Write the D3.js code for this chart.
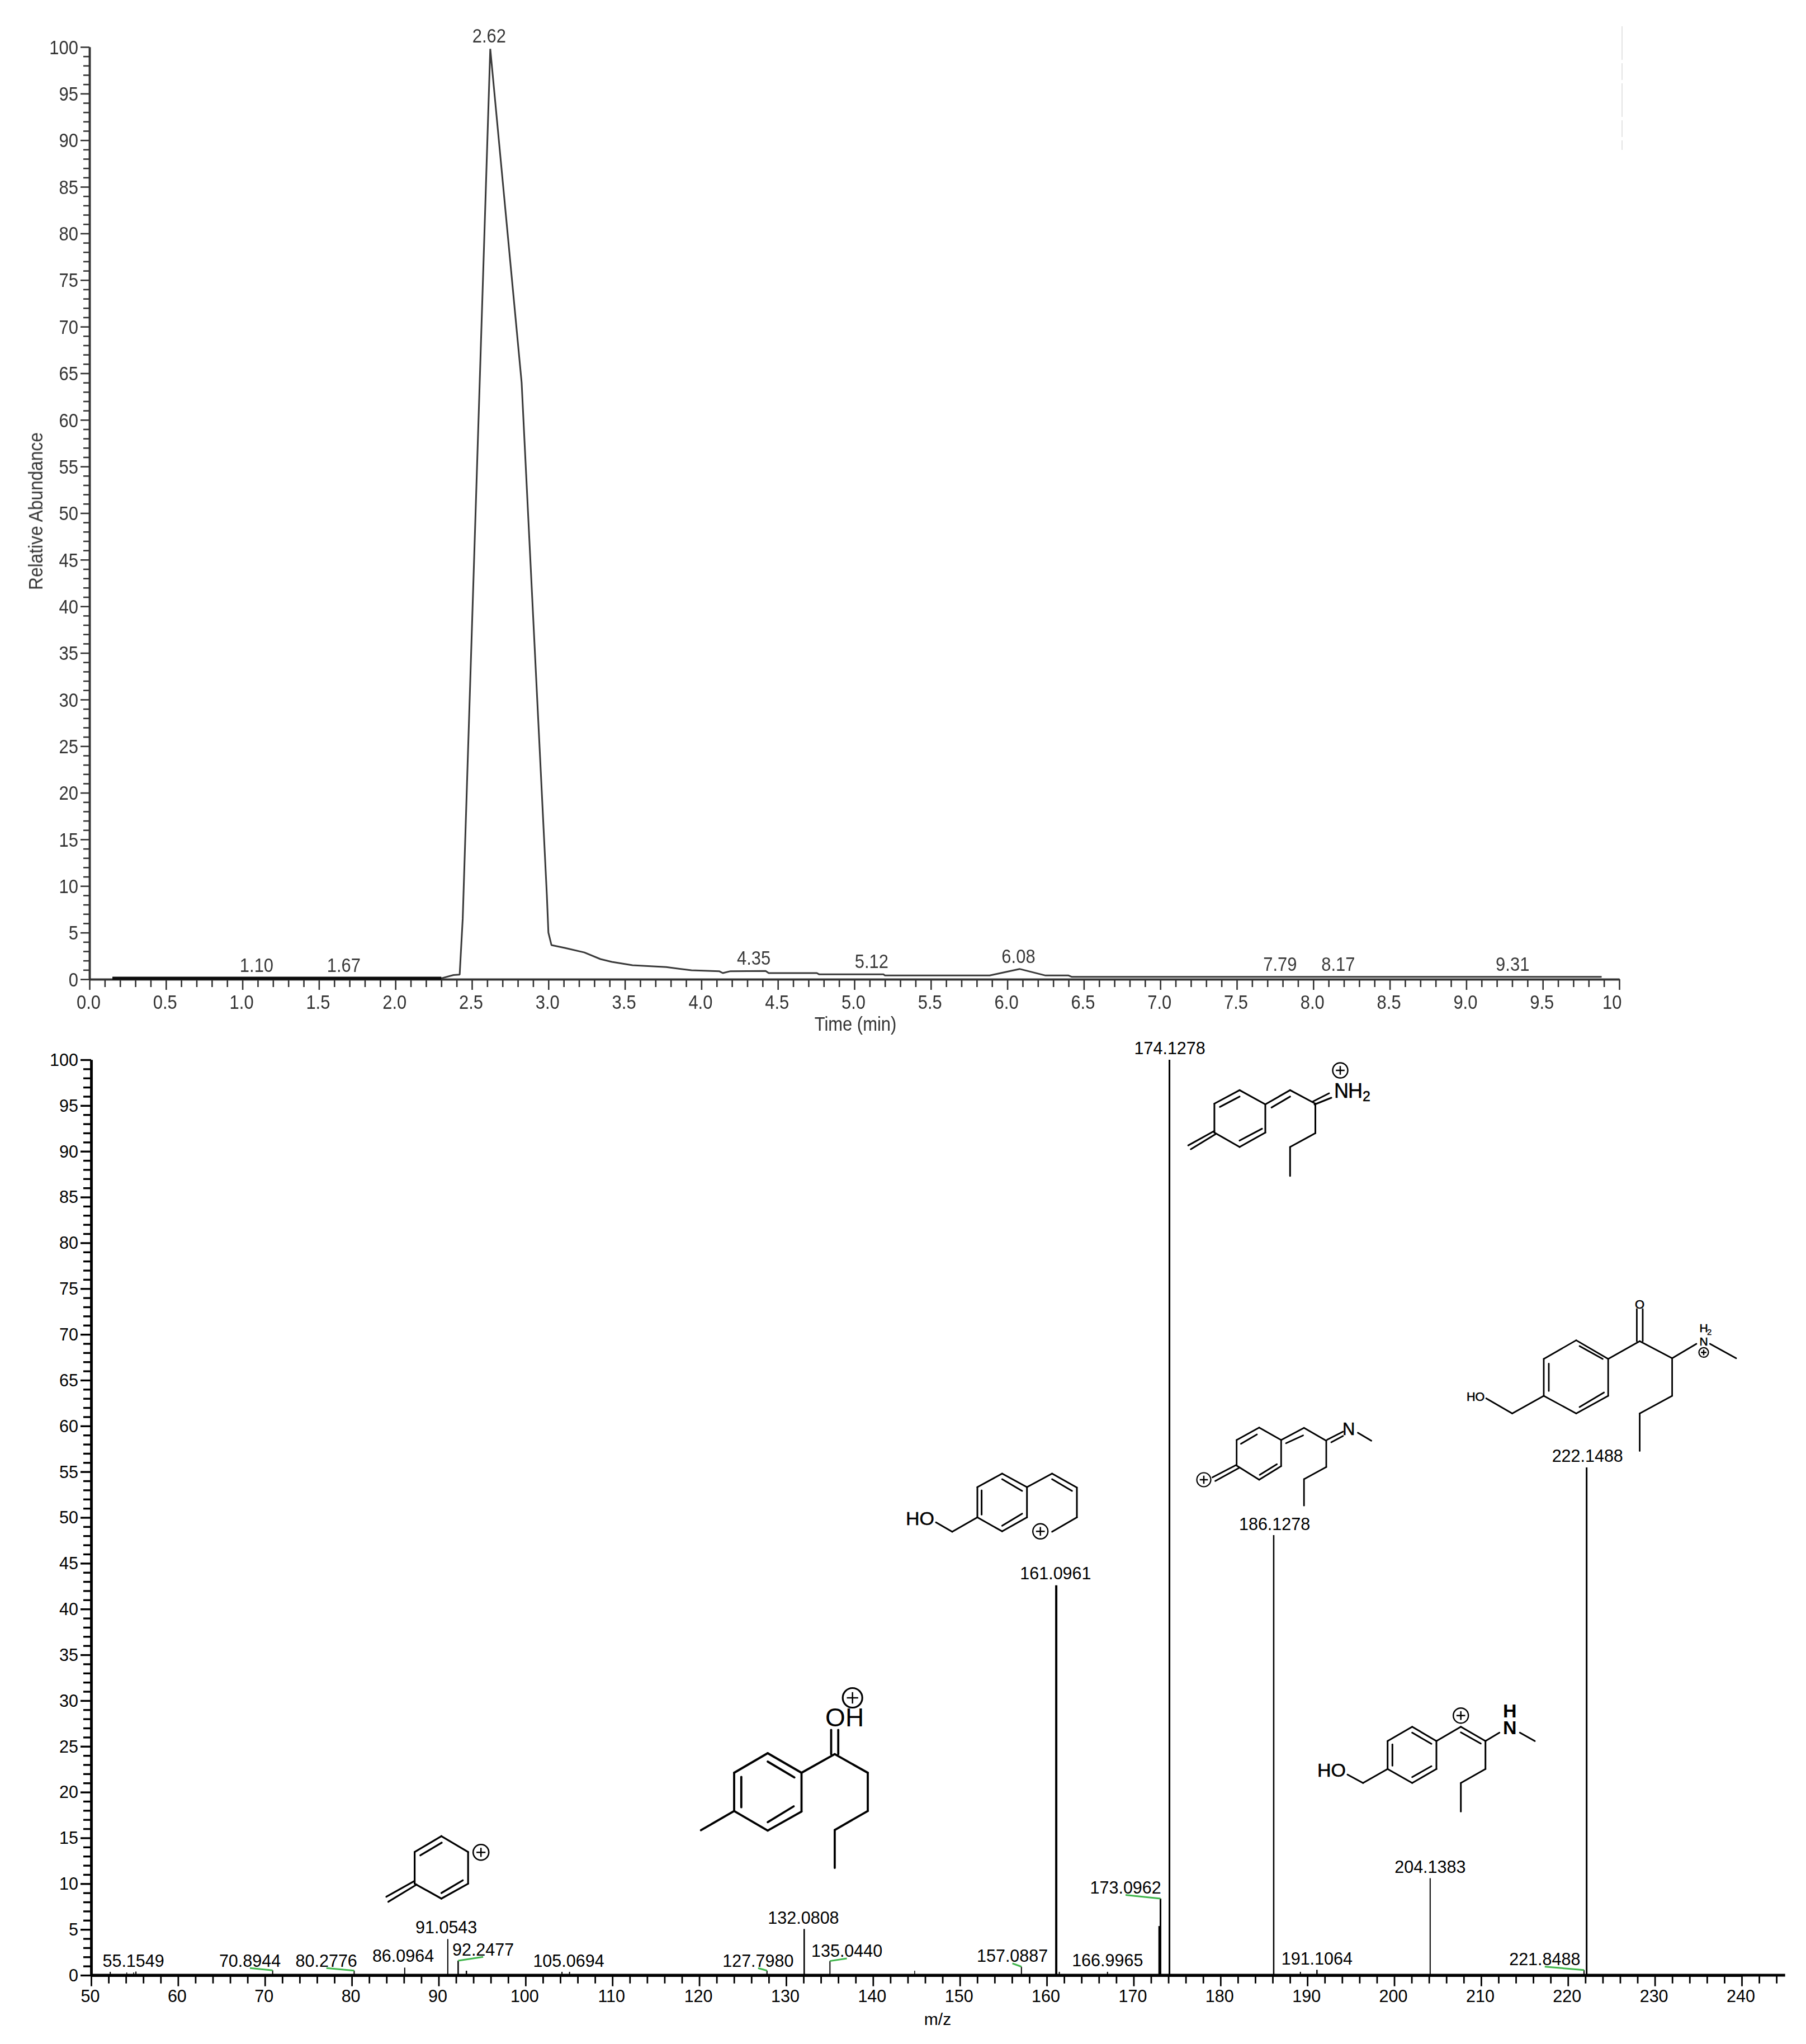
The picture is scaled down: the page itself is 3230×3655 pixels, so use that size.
<!DOCTYPE html>
<html>
<head>
<meta charset="utf-8">
<script src="https://cdnjs.cloudflare.com/ajax/libs/d3/7.8.5/d3.min.js"></script>
<style>
html,body{margin:0;padding:0;background:#fff}
svg{display:block}
text{font-family:"Liberation Sans",Arial,sans-serif}
</style>
</head>
<body>
<script>
// ---------- Chromatogram data ----------
const traceTime = [0.15,2.30,2.38,2.42,2.44,2.62,2.825,2.99,3.0,3.02,3.107,3.235,3.34,3.415,3.55,3.77,3.935,4.116,4.14,4.19,4.42,4.44,4.755,4.77,5.19,5.2,5.885,6.08,6.25,6.4,6.42,9.885];
const traceAbundance = [0.1,0.1,0.45,0.5,6.5,99.8,64,9,5,3.66,3.36,2.87,2.16,1.86,1.5,1.3,0.96,0.86,0.66,0.86,0.88,0.66,0.66,0.52,0.52,0.4,0.4,1.1,0.4,0.4,0.26,0.26];
const peakTimes = [1.10,1.67,2.62,4.35,5.12,6.08,7.79,8.17,9.31];
const peakAbundance = [0.1,0.1,99.8,0.88,0.52,1.1,0.26,0.26,0.26];
const timeMinor = d3.range(0,101);
const abundanceTicks = d3.range(0,101);

// ---------- Spectrum data ----------
const labelledMz = [55.1549,70.8944,80.2776,86.0964,91.0543,92.2477,105.0694,127.7980,132.0808,135.0440,157.0887,161.0961,166.9965,173.0962,174.1278,186.1278,191.1064,204.1383,221.8488,222.1488];
const labelledIntensity = [0.4,0.53,0.5,0.83,3.95,1.59,0.37,0.5,5.05,1.55,0.93,42.6,0.37,8.37,100,48.08,0.59,10.6,0.57,55.47];
const minorMz = [52.2,54.1,54.9,93.2,104.2,144.8,161.45,172.95,189.2];
const minorIntensity = [0.37,0.3,0.3,0.49,0.37,0.49,0.37,5.37,0.37];
const mzTicks = d3.range(50,245,2);

// ---------- Layout (not data) ----------
const labelDx = [-4.5,-40.6,-49.7,-2.8,-2.7,44.7,-1.6,-15.9,-1.3,30.3,-16.2,-1.2,0,-62.4,0.6,1.6,0,0,-70.2,1.6];
const labelDy = [-8.8,-6.6,-7.1,-10.4,-10,-9.3,-9.2,-7.1,-9.3,-7.3,-8.5,-10.3,-10,-9,-10,-9.3,-9.6,-9.5,-8.4,-10.4];
const labelledWidth = [2,2,2,2,2,2.5,2,2,2.5,2,2,4,2,3,3,2.5,2.5,2,2,3];
const minorWidth = [2,1.5,1.5,2.5,2,1.5,2,3,2];

const svg = d3.select("body").append("svg").attr("width",3230).attr("height",3655).attr("viewBox","0 0 3230 3655");
svg.append("rect").attr("width",3230).attr("height",3655).attr("fill","#fff");

// ================= Top panel =================
const topColor = "#333";
const squeeze = 0.86;
const topPanel = svg.append("g").style("filter","blur(0.4px)");
const xT = d3.scaleLinear().domain([0,10]).range([160,2896]);
const yT = d3.scaleLinear().domain([0,100]).range([1751,84]);

// faint scan artefact in the top right corner
topPanel.append("line").attr("x1",2901).attr("x2",2901).attr("y1",47).attr("y2",268)
  .attr("stroke","#e4e4e4").attr("stroke-width",2).attr("stroke-dasharray","60 6 30 6");

const xTMinor = d3.axisBottom(xT).tickValues(timeMinor.filter(i=>i%5).map(i=>i/10)).tickSize(14).tickSizeOuter(0).tickFormat("");
const xTMajor = d3.axisBottom(xT).tickValues(timeMinor.filter(i=>i%5===0).map(i=>i/10)).tickSize(19).tickSizeOuter(0).tickPadding(7)
  .tickFormat(v=>v===10?"10":d3.format(".1f")(v));
const yTMinor = d3.axisLeft(yT).tickValues(abundanceTicks.filter(i=>i%5)).tickSize(11).tickSizeOuter(0).tickFormat("");
const yTMajor = d3.axisLeft(yT).tickValues(abundanceTicks.filter(i=>i%5===0)).tickSize(16).tickSizeOuter(0).tickPadding(4);

function styleAxis(g,col,lw,tw){
  g.selectAll("path.domain").attr("stroke",col).attr("stroke-width",lw);
  g.selectAll("line").attr("stroke",col).attr("stroke-width",tw);
}
const gxm = topPanel.append("g").attr("transform","translate(0,1751)").call(xTMinor);
const gxM = topPanel.append("g").attr("transform","translate(0,1751)").call(xTMajor);
const gym = topPanel.append("g").attr("transform","translate(160,0)").call(yTMinor);
const gyM = topPanel.append("g").attr("transform","translate(160,0)").call(yTMajor);
[gxm,gxM,gym,gyM].forEach(g=>styleAxis(g,topColor,3.5,2.6));
gxM.selectAll("text").attr("font-size",36).attr("fill",topColor).attr("font-family","Liberation Sans")
  .attr("text-anchor",d=>d===10?"end":"middle")
  .attr("x",d=>d===10?4/squeeze:-2/squeeze)
  .attr("transform",`scale(${squeeze},1)`)
  .each(function(){this.setAttribute("y","53");this.removeAttribute("dy");});
gyM.selectAll("text").attr("font-size",36).attr("fill",topColor).attr("font-family","Liberation Sans")
  .attr("x",-20/squeeze).attr("dy","0.34em").attr("transform",`scale(${squeeze},1)`);

const traceLine = d3.line().x(i=>xT(traceTime[i])).y(i=>yT(traceAbundance[i]));
topPanel.append("path").attr("d",traceLine(d3.range(traceTime.length)))
  .attr("fill","none").attr("stroke","#3a3a3a").attr("stroke-width",3).attr("stroke-linejoin","bevel");
topPanel.append("path").attr("d",traceLine(d3.range(0,2)))
  .attr("fill","none").attr("stroke","#0c0c0c").attr("stroke-width",5.5);

topPanel.selectAll("text.peak").data(peakTimes).join("text").attr("class","peak")
  .attr("text-anchor","middle").attr("font-size",36).attr("fill","#3a3a3a")
  .attr("transform",(t,i)=>`translate(${xT(t)-2},${yT(peakAbundance[i])-11}) scale(${squeeze},1)`)
  .text(t=>t.toFixed(2));

topPanel.append("text").attr("text-anchor","middle").attr("font-size",36).attr("fill",topColor)
  .attr("transform",`translate(1530,1843) scale(0.86,1)`).text("Time (min)");
topPanel.append("text").attr("text-anchor","middle").attr("font-size",36).attr("fill",topColor)
  .attr("transform",`translate(76,914) rotate(-90) scale(0.88,1)`).text("Relative Abundance");

// ================= Bottom panel =================
const xB = d3.scaleLinear().domain([50,240]).range([163,3115]);
const yB = d3.scaleLinear().domain([0,100]).range([3532,1895]);
const bot = svg.append("g");

const xBMinor = d3.axisBottom(xB).tickValues(mzTicks.filter(v=>v%10)).tickSize(14.7).tickSizeOuter(0).tickFormat("");
const xBMajor = d3.axisBottom(xB).tickValues(mzTicks.filter(v=>v%10===0)).tickSize(19.7).tickSizeOuter(0);
const yBMinor = d3.axisLeft(yB).tickValues(abundanceTicks.filter(i=>i%5)).tickSize(14).tickSizeOuter(0).tickFormat("");
const yBMajor = d3.axisLeft(yB).tickValues(abundanceTicks.filter(i=>i%5===0)).tickSize(19).tickSizeOuter(0);

const gbxm = bot.append("g").attr("transform","translate(0,3532)").call(xBMinor);
const gbxM = bot.append("g").attr("transform","translate(0,3532)").call(xBMajor);
const gbym = bot.append("g").attr("transform","translate(163,0)").call(yBMinor);
const gbyM = bot.append("g").attr("transform","translate(163,0)").call(yBMajor);
[gbym,gbyM].forEach(g=>styleAxis(g,"#000",4.5,3.4));
[gbxm,gbxM].forEach(g=>styleAxis(g,"#000",5,2.8));
// axis baseline reaches 245
bot.append("line").attr("x1",xB(50)).attr("x2",xB(245)).attr("y1",yB(0)).attr("y2",yB(0)).attr("stroke","#000").attr("stroke-width",5);
gbxM.selectAll("text").attr("font-size",30.5).attr("fill","#000").attr("font-family","Liberation Sans")
  .attr("x",-2).each(function(){this.setAttribute("y","48");this.removeAttribute("dy");});
gbyM.selectAll("text").attr("font-size",30.5).attr("fill","#000").attr("font-family","Liberation Sans")
  .attr("x",-23).attr("dy","0.34em");

bot.selectAll("line.minor").data(minorMz).join("line").attr("class","minor")
  .attr("x1",d=>xB(d)).attr("x2",d=>xB(d)).attr("y1",yB(0))
  .attr("y2",(d,i)=>yB(minorIntensity[i])).attr("stroke","#000").attr("stroke-width",(d,i)=>minorWidth[i]);
bot.selectAll("line.stick").data(labelledMz).join("line").attr("class","stick")
  .attr("x1",d=>xB(d)).attr("x2",d=>xB(d)).attr("y1",yB(0))
  .attr("y2",(d,i)=>yB(labelledIntensity[i])).attr("stroke","#000").attr("stroke-width",(d,i)=>labelledWidth[i]);

// label leader lines for displaced labels
bot.selectAll("line.leader").data(labelledMz.map((m,i)=>i).filter(i=>Math.abs(labelDx[i])>8)).join("line").attr("class","leader")
  .attr("x1",i=>xB(labelledMz[i])+labelDx[i]).attr("y1",i=>yB(labelledIntensity[i])+labelDy[i]+2.6)
  .attr("x2",i=>xB(labelledMz[i])).attr("y2",i=>yB(labelledIntensity[i]))
  .attr("stroke","#3fb54a").attr("stroke-width",3);

bot.selectAll("text.mz").data(labelledMz).join("text").attr("class","mz")
  .attr("text-anchor","middle").attr("font-size",30.5).attr("fill","#000")
  .attr("x",(d,i)=>xB(d)+labelDx[i]).attr("y",(d,i)=>yB(labelledIntensity[i])+labelDy[i])
  .text(d=>d.toFixed(4));
bot.append("text").attr("x",1677).attr("y",3621).attr("text-anchor","middle").attr("font-size",30).text("m/z");

// ================= Chemical structure annotations =================
const structures = [
 { // m/z 174
  w:3, bonds:[[2171.9,1973.5,2217,1949.4],[2217,1949.4,2263,1974.7],[2263,1974.7,2263,2025.2],[2263,2025.2,2217,2051],[2217,2051,2171.9,2025.2],[2171.9,2025.2,2171.9,1973.5],
   [2181.7,1979.3,2217,1960.9],[2257,2018.3,2217,2039.5],[2171.9,2022.3,2125.2,2048.1],[2174,2028,2129.8,2055],
   [2263,1974.7,2307.3,1949.4],[2274.2,1980.4,2307.3,1960.9],[2307.3,1949.4,2352.5,1973.5],[2351,1975,2381,1963],[2347.5,1970,2377,1955],
   [2352.5,1973.5,2352.5,2026.3],[2352.5,2026.3,2307.3,2051],[2307.3,2051,2307.3,2102.7]],
  plus:[[2397,1914,13.5]],
  text:[["N",2386,1963,36,0.5],["H",2411,1963,36,0.5],["2",2437,1969,25,0.5]]
 },
 { // m/z 186
  w:2.8, bonds:[[2211.7,2575,2252,2552.7],[2252,2552.7,2291.3,2575],[2291.3,2575,2291.3,2621.7],[2291.3,2621.7,2252,2646],[2252,2646,2211.7,2620.7],[2211.7,2620.7,2211.7,2575],
   [2219.4,2581.7,2248,2565],[2283.7,2618.3,2253,2637.3],[2291.3,2575,2332.2,2553.3],[2300,2580.7,2330.6,2566.7],[2332.2,2553.3,2372,2576.3],
   [2373.5,2574.6,2402,2560],[2381,2579,2402,2567.7],[2428.5,2562,2452.6,2576.3],[2372,2576.3,2372,2623.3],[2372,2623.3,2332.2,2645],[2332.2,2645,2332.2,2692.2],
   [2211.7,2619.3,2168.4,2641.7],[2215.8,2625,2173.5,2648.3]],
  plus:[[2153,2646,12.5]],
  text:[["N",2401,2566,31,0.5]]
 },
 { // m/z 222
  w:2.8, bonds:[[2761,2430,2819,2396.6],[2819,2396.6,2876.2,2430],[2876.2,2430,2876.2,2496],[2876.2,2496,2819,2527.5],[2819,2527.5,2761,2496],[2761,2496,2761,2430],
   [2825,2407,2866.4,2430],[2770,2438.5,2770,2487.3],[2868.7,2490,2825,2516],[2876.2,2430,2932.6,2398.3],[2927.4,2398.3,2927.4,2341],[2938,2398.3,2938,2341],
   [2932.6,2398.3,2990.6,2428.7],[2990.6,2428.7,3034,2403],[3058.3,2403,3105,2428.7],[2990.6,2428.7,2990.6,2496],[2990.6,2496,2932.6,2527.5],[2932.6,2527.5,2932.6,2594.6],
   [2761,2496,2704.6,2527.5],[2704.6,2527.5,2658,2500.5]],
  plus:[[3047,2418.4,8.5]],
  text:[["O",2924,2339.8,22,0.6],["N",3039.5,2405.8,21,0.6],["H",3039.5,2382,21,0.6],["2",3053,2387,15,0.3],["HO",2623,2504.5,21.5,0.6]]
 },
 { // m/z 161
  w:3, bonds:[[1748,2659.3,1792.3,2635],[1792.3,2635,1836.7,2659.3],[1836.7,2659.3,1836.7,2713.3],[1836.7,2713.3,1792.3,2738.3],[1792.3,2738.3,1748,2713.3],[1748,2713.3,1748,2659.3],
   [1792.3,2645,1828,2666],[1755.6,2665,1755.6,2708.3],[1828,2706.7,1792.3,2728.3],[1836.7,2659.3,1881.6,2635],[1881.6,2635,1926,2660],[1881.6,2645,1917.3,2666],
   [1926,2660,1926,2713.3],[1926,2713.3,1881.6,2739],[1748,2713.3,1703,2739],[1703,2739,1674,2722.3]],
  plus:[[1860.7,2738.3,13.5]],
  text:[["HO",1620,2726.7,34,0.5]]
 },
 { // m/z 132
  w:3.8, bonds:[[1313,3170,1373,3135],[1373,3135,1433.5,3170],[1433.5,3170,1433.5,3239.3],[1433.5,3239.3,1373,3273.3],[1373,3273.3,1313,3238.3],[1313,3238.3,1313,3170],
   [1373,3150,1420.8,3178.3],[1325.8,3177.3,1325.8,3231.7],[1419.5,3230,1373,3258.3],[1313,3238.3,1253.7,3272.7],[1433.5,3170,1492.9,3136.7],
   [1486.5,3136.7,1486.5,3093.3],[1499.2,3136.7,1499.2,3093.3],[1492.9,3136.7,1552,3170],[1552,3170,1552,3238.3],[1552,3238.3,1492.9,3272.3],[1492.9,3272.3,1492.9,3340]],
  plus:[[1524.7,3036,17.5]],
  text:[["O",1476,3086.7,46,0],["H",1512,3086.7,46,0]]
 },
 { // m/z 91
  w:3.2, bonds:[[741.6,3311.7,789.4,3283.3],[789.4,3283.3,837.2,3311.7],[837.2,3311.7,837.2,3368.3],[837.2,3368.3,789.4,3395],[789.4,3395,741.6,3368.3],[741.6,3368.3,741.6,3311.7],
   [751.8,3317.7,790,3295],[827.7,3362.3,789.4,3385],[741.5,3363.3,691,3391.7],[745,3370,694.5,3400.7]],
  plus:[[860.2,3312.3,14]],
  text:[]
 },
 { // m/z 204
  w:3, bonds:[[2481.7,3113.3,2525.7,3087.7],[2525.7,3087.7,2569,3113.3],[2569,3113.3,2569,3163.3],[2569,3163.3,2525.7,3188.3],[2525.7,3188.3,2481.7,3163.3],[2481.7,3163.3,2481.7,3113.3],
   [2525.7,3098.3,2560,3118.3],[2490.3,3119.3,2490.3,3157.3],[2560,3158.3,2525.7,3177.7],[2569,3113.3,2612.7,3087.7],[2612.7,3087.7,2656.7,3113.3],[2612.7,3097.7,2648.3,3117.7],
   [2656.7,3113.3,2681.7,3098.3],[2718.3,3098.3,2745,3113.3],[2656.7,3113.3,2656.7,3163.3],[2656.7,3163.3,2612.7,3188.3],[2612.7,3188.3,2612.7,3239.3],
   [2481.7,3163.3,2437.7,3188.3],[2437.7,3188.3,2410,3173.3]],
  plus:[[2612.7,3067.7,13.5]],
  text:[["HO",2356,3176.7,34,0.6]],
  stacked:{x:2688,y:3071,dy:30,size:34,lines:["H","N"]}
 }
];
const chem = svg.append("g");
structures.forEach(s=>{
  const g = chem.append("g");
  g.selectAll("line").data(s.bonds).join("line")
    .attr("x1",d=>d[0]).attr("y1",d=>d[1]).attr("x2",d=>d[2]).attr("y2",d=>d[3])
    .attr("stroke","#000").attr("stroke-width",s.w).attr("stroke-linecap","round");
  s.plus.forEach(p=>{
    g.append("circle").attr("cx",p[0]).attr("cy",p[1]).attr("r",p[2]).attr("fill","none").attr("stroke","#000").attr("stroke-width",Math.max(2.2,s.w-.6));
    const a=p[2]*0.58;
    g.append("line").attr("x1",p[0]-a).attr("x2",p[0]+a).attr("y1",p[1]).attr("y2",p[1]).attr("stroke","#000").attr("stroke-width",2.5);
    g.append("line").attr("x1",p[0]).attr("x2",p[0]).attr("y1",p[1]-a).attr("y2",p[1]+a).attr("stroke","#000").attr("stroke-width",2.5);
  });
  s.text.forEach(t=>{
    g.append("text").attr("x",t[1]).attr("y",t[2]).attr("font-size",t[3]).attr("fill","#000")
      .attr("stroke","#000").attr("stroke-width",t[4]||0).text(t[0]);
  });
  if(s.stacked){
    const st=s.stacked;
    const tx=g.append("text").attr("font-size",st.size).attr("font-weight",700).attr("fill","#000");
    st.lines.forEach((l,i)=>tx.append("tspan").attr("x",st.x).attr("y",st.y+i*st.dy).text(l));
  }
});
</script>
</body>
</html>
